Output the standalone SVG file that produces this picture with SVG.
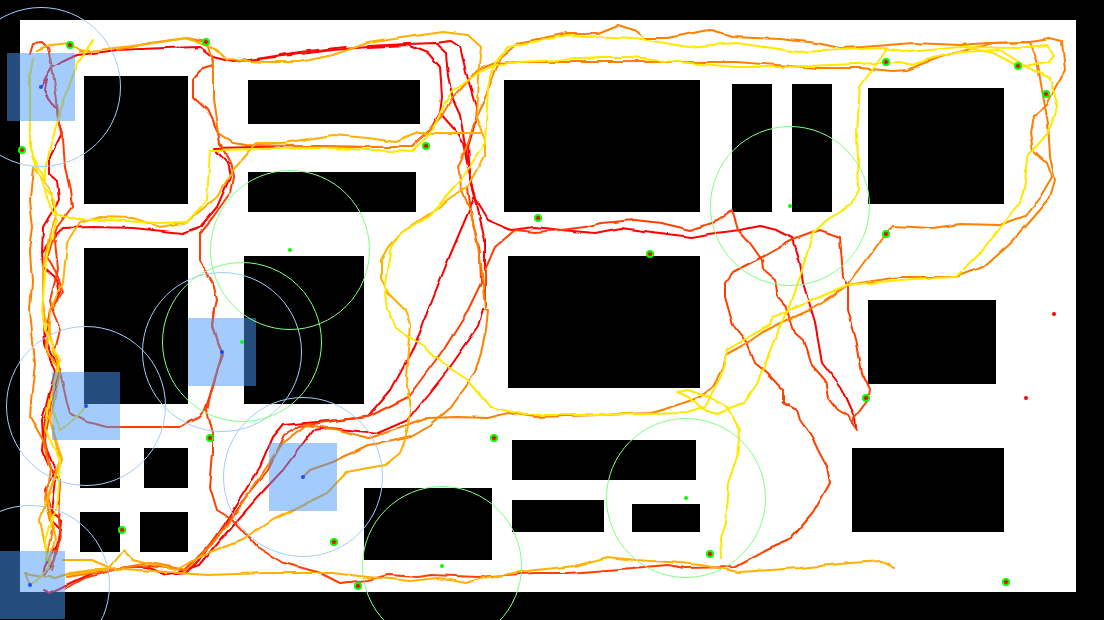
<svg xmlns="http://www.w3.org/2000/svg" width="1104" height="620" viewBox="0 0 1104 620">
<style>
.t{fill:none;stroke-width:2;stroke-linejoin:round;stroke-linecap:round}
.r{stroke:#ff0000}.ro{stroke:#ff4000}.o{stroke:#ff8000}.a{stroke:#ffb000}.y{stroke:#ffe800}
.s{fill:rgb(72,152,250);fill-opacity:.5}
.bc{fill:none;stroke:#a3cbfb}.gc{fill:none;stroke:#80ff80}
.gd{fill:#00ff00}.rd{fill:#ff0000}.bd{fill:#1a4dff}
</style>
<defs>
<filter id="wob" filterUnits="userSpaceOnUse" x="0" y="0" width="1104" height="620" color-interpolation-filters="sRGB">
<feTurbulence type="fractalNoise" baseFrequency="0.045" numOctaves="2" seed="4" result="n"/>
<feDisplacementMap in="SourceGraphic" in2="n" scale="4" xChannelSelector="R" yChannelSelector="G"/>
</filter>
</defs>
<rect width="1104" height="620" fill="#000"/>
<rect x="20" y="20" width="1056" height="572" fill="#fff"/>
<g id="walls" fill="#000">
<rect x="84" y="76" width="104" height="128"/><rect x="248" y="80" width="172" height="44"/><rect x="248" y="172" width="168" height="40"/>
<rect x="84" y="248" width="104" height="156"/><rect x="244" y="256" width="120" height="148"/><rect x="80" y="448" width="40" height="40"/>
<rect x="144" y="448" width="44" height="40"/><rect x="80" y="512" width="40" height="40"/><rect x="140" y="512" width="48" height="40"/>
<rect x="364" y="488" width="128" height="72"/><rect x="512" y="440" width="184" height="40"/><rect x="512" y="500" width="92" height="32"/>
<rect x="632" y="504" width="68" height="28"/><rect x="504" y="80" width="196" height="132"/><rect x="508" y="256" width="192" height="132"/>
<rect x="732" y="84" width="40" height="128"/><rect x="792" y="84" width="40" height="128"/><rect x="868" y="88" width="136" height="116"/>
<rect x="868" y="300" width="128" height="84"/><rect x="852" y="448" width="152" height="84"/>
</g>
<g id="trajectories" filter="url(#wob)">
<polyline class="t r" points="41,87 46,78 52,68 62,62 77,55 117,50 165,48 200,47 213,57 233,62 267,58 300,54 333,50 368,47 408,45 428,53 440,67 442,97 440,113 431,128 411,147 388,147 368,147 300,146 214,148 227,163 230,177 217,207 200,227 183,233 133,228 93,227 63,228 50,240 42,253 43,267 57,280 60,293 50,310 45,340 60,370 45,420 42,450 55,480 50,520 60,530 55,560 44,575"/>
<polyline class="t r" points="250,60 300,52 345,47"/>
<polyline class="t r" points="368,46 408,44 435,43 446,53 448,77 453,100 460,115 463,133 468,163 475,197 468,213 451,253 428,310 421,330 411,353 391,390 368,417 317,422 283,425 273,437 260,467 233,510 200,560 187,573 167,575 147,567 127,567 93,573 67,585 50,593 44,590"/>
<polyline class="t r" points="435,43 451,41 460,47 466,72 476,107 475,123 468,147 470,173 476,200 488,220 511,230 535,227 561,230 595,233 621,228 651,232 675,235 693,237 715,233 740,230 760,226 777,230 793,238 800,263 803,283 815,323 822,363 843,390 855,417 856,428"/>
<polyline class="t r" points="440,113 455,130 463,143 471,180 475,197 485,240 485,310 483,310 478,327 448,370 408,420 378,433 368,432 330,428 313,430 283,470 267,487 233,525 200,565 180,572"/>
<polyline class="t r" points="41,87 47,80 45,90 50,100 57,110 58,120 62,133 50,157 50,173 58,180 60,200 50,215 43,227 42,253"/>
<polyline class="t r" points="43,300 45,345 55,372 42,420 43,440 55,470 45,490 50,510 60,520 58,545 45,565 43,575"/>
<polyline class="t ro" points="203,68 193,80 193,97 207,110 218,133 220,143 230,163 233,177 230,193 213,217 200,233 200,260 213,283 217,300 215,310 213,327 218,343 223,355 213,383 207,410 213,433 213,453 210,487 217,510 233,520 257,547 283,563 320,573 340,583 368,580 388,575 418,577 431,575 478,577 535,573 568,573 608,570 668,565 685,568 736,567 767,550 790,540 813,513 830,483 827,467 818,450 812,437 800,420 797,410 783,403 783,390 767,373 755,363 747,343 733,325 725,297 725,283 733,272 762,257 780,247 793,240 820,230 840,237 843,277 848,287 848,310 857,343 862,373 870,390 868,400 855,417 852,423 857,430"/>
<polyline class="t ro" points="203,68 213,65 212,57"/>
<polyline class="t ro" points="852,423 850,417 838,410 828,397 825,380 810,363 803,340 795,333 787,307 778,297 775,280 763,270 762,260 750,243 738,230 732,210 715,222 691,230 661,223 635,220 601,223 585,227 561,230 535,232 515,230 495,247 485,270 485,310"/>
<polyline class="t ro" points="222,352 218,343 213,325 215,310"/>
<polyline class="t ro" points="222,352 219,365 214,383 205,410 200,417 180,427 147,427 107,427 87,422 70,413 67,403 60,372 55,350 60,330 52,310 50,300 58,270 55,240"/>
<polyline class="t ro" points="468,187 471,213 480,253 481,283 468,310 441,353 408,397 368,417 340,420 300,426 285,435 268,470 240,505 205,550 185,570 150,566 120,568 85,578 67,588"/>
<polyline class="t ro" points="53,390 45,440 50,470 60,480 58,520 60,540 52,570"/>
<polyline class="t ro" points="30,53 33,43 42,42 48,48 52,67 57,100 58,120 63,140 65,167 70,190 72,207 57,227 47,257 58,277 63,293 50,310"/>
<polyline class="t o" points="303,477 310,470 333,462 368,445 388,442 411,437 428,427 448,410 475,373 481,353 486,330 488,310 485,310 481,263 471,213 461,187 458,167 468,143 476,117 485,97 501,57 518,43 568,33 598,33 618,25 635,30 645,38 668,38 708,30 733,37 780,39 817,43 840,48 863,47 913,43 960,45 987,43 1030,42 1037,60 1042,90 1048,123 1050,157 1055,180 1050,197 1033,217 1010,243 983,267 957,277 900,277 847,285 827,300 810,310 783,322 763,332 747,343 725,355 722,370 713,387 700,397 678,405 651,413 601,415 535,417 508,413 488,418 458,417 428,418 401,428 368,438 340,430 307,425 283,443 260,477 240,507 213,543 187,570 150,563 110,570 67,577"/>
<polyline class="t o" points="825,300 847,285 885,234 893,226 933,228 960,224 1000,225 1025,216 1040,197 1052,177 1047,163 1033,150 1030,133 1033,117 1047,105 1055,88 1065,70 1062,42 1050,39 1030,42 993,43 967,50 947,55 933,60 907,70 893,71 860,68 817,68 736,62 568,62 518,62 495,63 478,70 451,100 441,117 426,133 411,147 368,147 300,146 247,145 233,143 218,133 213,100 213,60 206,42 187,38 150,43 117,50"/>
<polyline class="t o" points="33,167 30,200 33,227 30,250 32,283 30,310 35,363 32,390 30,417 43,440 50,470 45,500 52,530 46,560"/>
<polyline class="t a" points="80,52 140,45 187,38 217,50 227,60 267,62 300,62 333,55 368,43 408,37 443,32 468,35 481,47 478,77 476,117 485,140 485,157 468,187 451,197 435,210 401,233 388,247 381,260 381,277 388,293 405,310 410,323 406,377 410,410 408,427 405,440 400,453 385,465 368,468 347,472 327,493 293,510 273,520 243,540 200,557 177,570 133,560 123,550 107,570 65,575"/>
<polyline class="t a" points="63,560 93,560 110,568 167,572 207,575 267,573 333,573 368,577 411,581 438,578 465,583 488,577 535,570 575,566 608,557 635,560 668,562 701,565 740,572 800,568 850,563 883,561 895,567"/>
<polyline class="t a" points="481,133 418,133 395,142 368,138 333,135 283,143 257,143 233,170 217,197 187,222 160,227 133,218 100,217 80,223 67,243 63,283 50,310 47,350 60,372 50,420 60,460 47,500 55,540 48,570"/>
<polyline class="t a" points="37,50 50,45 70,43 80,50 90,52"/>
<polyline class="t a" points="33,167 50,190 57,213 50,233 43,267 43,310 58,365 47,410 62,460 50,490 40,520 48,560"/>
<polyline class="t y" points="93,40 77,63 60,113 50,147 43,187 53,213 77,220 107,220 160,223 187,222 207,200 210,150 333,148 368,150 411,152 431,133 445,103 451,93 478,73 495,65 518,62 601,58 630,58 736,67 783,67 833,65 900,62 913,65 933,58 960,52 1000,50 1027,67 1050,78 1058,107 1048,133 1027,157 1025,183 1020,203 983,250 957,277 913,279 847,285 813,300 790,310 773,317 770,325 747,338 727,350 721,377 705,407 688,413 601,415 525,415 491,407 468,380 448,367 425,347 395,328 388,310 385,283 391,247 401,233 428,217 461,180 485,143 488,87 495,63 508,47 568,35 635,38 688,47 736,43 800,52 883,48 910,52 960,47 1017,48 1047,45 1053,55 1047,62 1020,67 993,53 967,48"/>
<polyline class="t y" points="887,48 860,87 857,133 859,190 850,205 827,220 813,233 803,267 790,307 773,343 757,383 743,403 717,413 701,408 688,397 678,392 688,390 711,398 727,407 740,430 737,457 728,483 725,523 720,537 721,558"/>
<polyline class="t y" points="30,150 43,187 55,200 57,220 47,253 42,310 45,330 60,360 50,400 45,430 60,460 58,500 45,540 47,560"/>
<polyline class="t y" points="33,57 30,77 30,150 45,180"/>
<polyline class="t y" points="86,406 75,420 60,430 53,410"/>
<polyline class="t a" points="30,585 25,573 55,578 70,573 108,568"/>
<polyline class="t y" points="30,585 45,572 52,560"/>
</g>
<g id="zones">
<rect class="s" x="7" y="53" width="68" height="68"/><rect class="s" x="188" y="318" width="68" height="68"/><rect class="s" x="52" y="372" width="68" height="68"/>
<rect class="s" x="269" y="443" width="68" height="68"/><rect class="s" x="-3" y="551" width="68" height="68"/>
</g>
<g id="ranges">
<circle class="bc" cx="41" cy="87" r="79.5"/><circle class="bc" cx="222" cy="352" r="79.5"/><circle class="bc" cx="86" cy="406" r="79.5"/>
<circle class="bc" cx="303" cy="477" r="79.5"/><circle class="bc" cx="30" cy="585" r="79.5"/>
<circle class="gc" cx="290" cy="250" r="79.5"/><circle class="gc" cx="242" cy="342" r="79.5"/><circle class="gc" cx="790" cy="206" r="79.5"/>
<circle class="gc" cx="686" cy="498" r="79.5"/><circle class="gc" cx="442" cy="566" r="79.5"/>
</g>
<g id="points">
<circle class="bd" cx="41" cy="87" r="2"/><circle class="bd" cx="222" cy="352" r="2"/><circle class="bd" cx="86" cy="406" r="2"/><circle class="bd" cx="303" cy="477" r="2"/><circle class="bd" cx="30" cy="585" r="2"/>
<circle class="gd" cx="290" cy="250" r="2"/><circle class="gd" cx="242" cy="342" r="2"/><circle class="gd" cx="790" cy="206" r="2"/><circle class="gd" cx="686" cy="498" r="2"/><circle class="gd" cx="442" cy="566" r="2"/>
<g class="gd"><circle cx="70" cy="45" r="4"/><circle cx="206" cy="42" r="4"/><circle cx="22" cy="150" r="4"/><circle cx="426" cy="146" r="4"/><circle cx="538" cy="218" r="4"/><circle cx="650" cy="254" r="4"/><circle cx="886" cy="62" r="4"/><circle cx="1018" cy="66" r="4"/><circle cx="1046" cy="94" r="4"/><circle cx="886" cy="234" r="4"/><circle cx="866" cy="398" r="4"/><circle cx="494" cy="438" r="4"/><circle cx="210" cy="438" r="4"/><circle cx="122" cy="530" r="4"/><circle cx="334" cy="542" r="4"/><circle cx="358" cy="586" r="4"/><circle cx="710" cy="554" r="4"/><circle cx="1006" cy="582" r="4"/></g>
<g class="rd"><circle cx="70" cy="45" r="2"/><circle cx="206" cy="42" r="2"/><circle cx="22" cy="150" r="2"/><circle cx="426" cy="146" r="2"/><circle cx="538" cy="218" r="2"/><circle cx="650" cy="254" r="2"/><circle cx="886" cy="62" r="2"/><circle cx="1018" cy="66" r="2"/><circle cx="1046" cy="94" r="2"/><circle cx="886" cy="234" r="2"/><circle cx="866" cy="398" r="2"/><circle cx="494" cy="438" r="2"/><circle cx="210" cy="438" r="2"/><circle cx="122" cy="530" r="2"/><circle cx="334" cy="542" r="2"/><circle cx="358" cy="586" r="2"/><circle cx="710" cy="554" r="2"/><circle cx="1006" cy="582" r="2"/><circle cx="1054" cy="314" r="2"/><circle cx="1026" cy="398" r="2"/></g>
</g>
</svg>
